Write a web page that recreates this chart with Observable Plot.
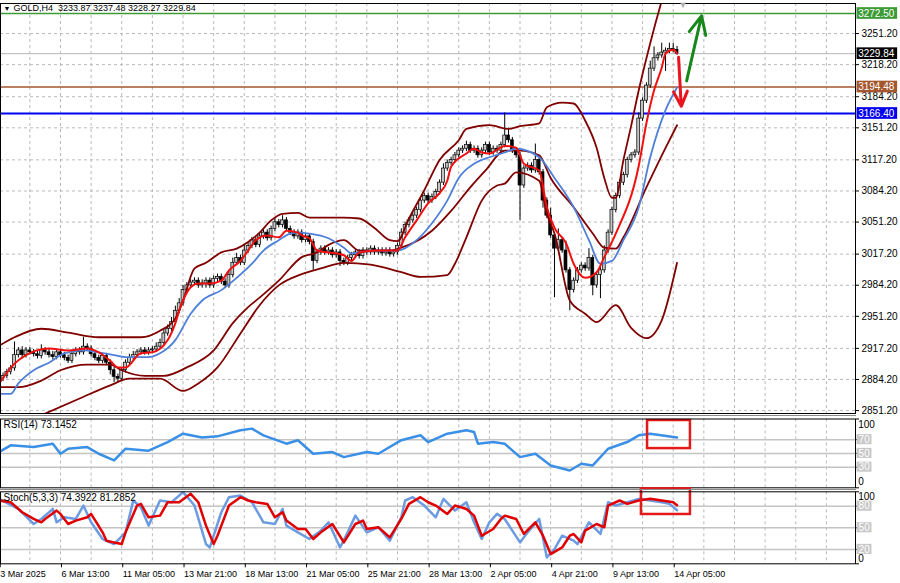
<!DOCTYPE html>
<html><head><meta charset="utf-8">
<script src="https://cdn.jsdelivr.net/npm/d3@7"></script>
<script src="https://cdn.jsdelivr.net/npm/@observablehq/plot@0.6"></script>
<style>
body{margin:0;background:#fff;}
#wrap{position:relative;width:900px;height:583px;overflow:hidden;background:#fff;font-family:"Liberation Sans",Arial,sans-serif;}
#wrap > div{position:absolute;left:0;}
.sep{width:856px;height:1px;background:#8a8a8a;}
</style></head><body>
<div id="wrap">
  <div id="main" style="top:0"></div>
  <div id="rsi" style="top:415px"></div>
  <div id="stoch" style="top:489px"></div>
  <div class="sep" style="top:415px"></div>
  <div class="sep" style="top:489px"></div>
</div>
<script>
// ---------- DATA ----------
const header = "GOLD,H4  3233.87 3237.48 3228.27 3229.84";
const timeLabels = ["3 Mar 2025","6 Mar 13:00","11 Mar 05:00","13 Mar 21:00","18 Mar 13:00","21 Mar 05:00","25 Mar 21:00","28 Mar 13:00","2 Apr 05:00","4 Apr 21:00","9 Apr 13:00","14 Apr 05:00"];
const timeLabelBars = [0,16,32,48,64,80,96,112,128,144,160,176];
const priceTicks = [3251.2,3218.2,3184.2,3151.2,3117.2,3084.2,3051.2,3017.2,2984.2,2951.2,2917.2,2884.2,2851.2];
const levelValues = [3272.50, 3229.84, 3194.48, 3166.40];

const firstOpen = 2882;
const closes = [
2885,2888,2892,2896,2910,2915,2910,2915,2913,2911,
2909,2915,2913,2910,2908,2913,2910,2907,2904,2911,
2915,2913,2919,2917,2911,2907,2904,2909,2902,2894,
2887,2885,2894,2902,2907,2910,2913,2915,2913,2915,
2916,2919,2923,2933,2938,2945,2957,2965,2979,2984,
2987,2989,2984,2986,2989,2984,2991,2993,2988,2984,
2995,3008,3013,3008,3021,3026,3032,3027,3036,3040,
3034,3044,3051,3048,3053,3044,3040,3036,3040,3032,
3036,3030,3010,3019,3023,3019,3021,3016,3019,3010,
3008,3013,3016,3019,3015,3021,3019,3023,3019,3021,
3018,3021,3017,3019,3026,3040,3048,3053,3058,3064,
3074,3079,3074,3078,3083,3093,3108,3114,3117,3122,
3127,3129,3133,3127,3129,3122,3127,3133,3125,3129,
3127,3133,3143,3138,3127,3122,3090,3108,3111,3106,
3117,3104,3074,3058,3037,3023,3032,3021,3000,2979,
2989,3000,3005,3002,3013,2984,2995,3000,3021,3040,
3064,3079,3093,3101,3117,3122,3125,3161,3180,3196,
3214,3225,3228,3231,3233,3235,3233.87,3229.84];
const wickUp = [
3,3,3,3,14,3,4,3,3,3, 3,6,3,3,4,3,3,3,3,3, 3,3,10,3,3,3,3,3,3,3, 3,3,3,3,4,4,3,3,3,3,
3,4,4,4,4,5,5,5,5,3, 3,3,3,4,3,3,3,3,3,3, 5,5,5,3,6,3,3,3,4,3, 3,3,4,3,5,3,3,3,3,3,
3,3,3,3,3,3,3,3,3,3, 3,3,3,3,3,3,3,3,3,3, 3,3,3,3,3,4,3,3,3,3, 3,3,3,3,3,3,5,3,3,3,
3,3,4,3,3,3,3,3,3,3, 3,3,24,8,3,3,3,3,3,3, 17,3,3,3,8,3,12,3,10,3, 3,3,3,3,10,3,3,3,5,3,
3,3,3,3,3,3,3,6,3,3, 8,12,3,10,3,6,6,3.61];
const wickDn = [
4,3,3,3,3,3,3,3,3,3, 3,3,3,3,3,3,3,3,3,3, 3,3,3,3,3,3,3,3,3,5, 6,5,3,3,3,3,3,3,3,3,
3,3,3,3,3,3,3,3,3,3, 3,3,3,3,5,3,3,3,3,3, 3,3,3,3,3,3,3,3,3,3, 3,3,3,3,3,3,3,3,3,3,
3,3,10,3,3,3,3,3,3,6, 3,3,3,3,3,3,3,3,3,3, 3,3,3,3,3,3,3,3,3,3, 3,3,3,3,3,3,3,3,3,3,
3,3,3,3,3,3,3,3,3,3, 3,3,3,3,3,3,37,3,3,3, 3,3,8,3,3,52,3,3,3,22, 3,3,3,3,3,11,3,25,3,3,
3,3,3,3,3,3,3,3,3,3, 3,3,3,3,20,3,3,1.57];

// indicator lines: [bar index, value]
const redMA = [[0,2880],[4,2901],[7,2910],[13,2917],[18,2915],[23,2917],[26,2913],[29,2904],[31,2897],[33,2897],[37,2912],[40,2913],[44,2926],[46,2944],[47,2957],[50,2982],[52,2986],[55,2986],[58,2989],[60,3000],[63,3010],[65,3021],[67,3032],[70,3037],[73,3035],[75,3042],[78,3040],[79,3037],[81,3034],[83,3021],[86,3019],[90,3016],[92,3010],[94,3019],[99,3021],[104,3021],[106,3035],[109,3053],[112,3071],[115,3082],[117,3095],[118,3110],[122,3124],[124,3129],[126,3125],[128,3124],[132,3132],[135,3130],[137,3113],[141,3106],[143,3067],[145,3045],[148,3029],[150,3007],[153,2992],[156,2998],[158,3014],[161,3039],[167,3111],[169,3156],[171,3191],[173,3215],[174,3230],[176,3234],[177,3230]];
const blueMA = [[0,2869],[3,2869],[5,2880],[9,2894],[13,2902],[17,2912],[22,2915],[26,2913],[30,2910],[33,2908],[39,2908],[42,2912],[46,2926],[50,2954],[53,2968],[58,2979],[62,2992],[66,3007],[69,3021],[73,3032],[76,3039],[78,3040],[81,3039],[86,3034],[90,3024],[92,3018],[98,3021],[104,3021],[109,3032],[113,3050],[117,3074],[120,3098],[124,3113],[128,3120],[132,3125],[135,3129],[141,3120],[145,3098],[150,3067],[154,3032],[157,3007],[160,3010],[163,3032],[167,3067],[170,3120],[174,3170],[177,3194]];
const bandUpper = [[0,2920],[4,2929],[11,2938],[18,2934],[26,2929],[31,2929],[37,2929],[42,2936],[46,2949],[48,2968],[51,3002],[54,3008],[58,3019],[62,3023],[65,3030],[68,3040],[71,3053],[74,3060],[78,3061],[81,3056],[86,3056],[90,3056],[94,3055],[98,3045],[102,3032],[104,3031],[107,3055],[111,3085],[115,3117],[120,3138],[122,3150],[128,3154],[133,3150],[136,3153],[141,3156],[143,3173],[147,3178],[150,3177],[153,3159],[156,3130],[158,3098],[160,3077],[161,3077],[163,3117],[165,3153],[167,3191],[170,3241],[173,3286],[177,3339]];
const bandMiddle = [[0,2876],[5,2876],[11,2883],[16,2894],[23,2900],[29,2900],[32,2894],[38,2888],[43,2888],[49,2897],[56,2915],[61,2944],[65,2961],[68,2971],[73,2989],[79,3014],[83,3019],[86,3027],[90,3032],[94,3021],[102,3021],[105,3024],[113,3042],[118,3063],[123,3088],[127,3106],[132,3127],[136,3127],[141,3122],[144,3098],[150,3067],[155,3039],[158,3024],[161,3023],[163,3035],[169,3088],[174,3130],[177,3154]];
const bandLower = [[12,2848],[21,2864],[29,2878],[34,2885],[42,2885],[48,2872],[52,2880],[57,2897],[63,2933],[68,2963],[73,2984],[79,2996],[84,3002],[90,3008],[97,3006],[105,2998],[110,2993],[117,2995],[119,3007],[122,3035],[126,3074],[130,3090],[132,3092],[135,3104],[141,3095],[143,3060],[145,3039],[149,2968],[153,2954],[156,2945],[161,2963],[165,2939],[169,2928],[173,2947],[177,3008]];

const rsi = [[0,52],[3,61.7],[9,59.2],[14,64.1],[16,49.5],[18,56.8],[23,59.2],[26,49.5],[30,39.8],[33,56.8],[39,54],[44,66.5],[48,78.7],[53,73],[57,74.8],[63,83.6],[66,86],[69,76.3],[75,64.1],[78,69.2],[82,49.5],[87,52],[90,44.6],[96,52],[99,49.5],[105,69.2],[110,76.3],[112,66.5],[117,78.7],[122,83.6],[124,81],[125,64.1],[129,66.5],[132,64.1],[136,44.6],[140,49.5],[144,32.5],[149,25.2],[152,34.9],[155,32.5],[159,56.8],[164,66.5],[167,76.3],[170,78.7],[177,73.1452]];
const rsiLevels = [70,50,30];
const stochMain = [[0,90.2],[5,76.2],[9,55.3],[11,62.3],[14,76.2],[15,57.6],[17,64.6],[20,62.3],[22,80.9],[24,57.6],[27,34.4],[30,27.4],[33,43.7],[35,87.9],[37,78.6],[39,53],[42,87.9],[45,85.5],[48,99.5],[51,80.9],[54,27.4],[55,22.7],[58,71.6],[60,92.5],[63,94.8],[66,85.5],[69,57.6],[72,55.3],[74,76.2],[75,53],[78,43.7],[81,34.4],[84,46],[86,57.6],[89,22.7],[91,43.7],[93,66.9],[96,43.7],[99,50.7],[102,32.1],[105,64.6],[106,87.9],[108,92.5],[111,80.9],[114,64.6],[116,90.2],[119,73.9],[122,85.5],[124,57.6],[126,34.4],[128,57.6],[130,69.3],[132,62.3],[136,29.7],[138,43.7],[141,62.3],[143,8.8],[145,20.4],[147,39],[150,32.1],[151,27.4],[154,57.6],[157,41.4],[159,85.5],[161,80.9],[164,85.5],[167,90.2],[170,87.9],[173,85.5],[175,83.2],[177,74.3922]];
const stochSignal = [[0,87.9],[3,85.5],[6,71.6],[9,62.3],[11,57.6],[12,62.3],[15,73.9],[16,69.3],[18,55.3],[20,60],[23,64.6],[24,69.3],[27,43.7],[28,32.1],[30,29.7],[32,27.4],[33,43.7],[36,80.9],[37,83.2],[39,64.6],[42,66.9],[44,85.5],[47,85.5],[50,97.2],[52,85.5],[54,53],[56,27.4],[57,39],[60,80.9],[63,92.5],[65,87.9],[67,85.5],[70,83.2],[72,64.6],[74,71.6],[75,60],[78,48.3],[80,48.3],[82,34.4],[84,43.7],[87,55.3],[90,29.7],[93,55.3],[95,60],[96,48.3],[99,50.7],[102,36.7],[105,62.3],[107,83.2],[110,92.5],[112,85.5],[114,80.9],[117,69.3],[119,80.9],[122,76.2],[124,66.9],[126,39],[129,48.3],[131,62.3],[132,66.9],[135,62.3],[137,41.4],[140,57.6],[142,39],[144,13.5],[147,22.7],[149,39],[150,41.4],[152,29.7],[153,46],[156,55.3],[158,50.7],[159,80.9],[162,87.9],[164,83.2],[167,87.9],[170,90.2],[173,87.9],[176,85.5],[177,81.2852]];
const stochLevels = [80,50,20];

// annotations (bar index, value)
const arrowsMain = [
  {x1:179.5, y1:3201, x2:183.4, y2:3270, c:"#17871a"},
  {x1:177.4, y1:3226, x2:178.1, y2:3174, c:"#e8141e"}
];
const rsiBox = {x1:169.3, x2:180.5, y1:57, y2:97.8};
const stochBox = {x1:167.7, x2:180.5, y1:68.5, y2:104};

// ---------- DRAW ----------
const xDom = [0.34, 223.6];
const W = 900;
const base = {width: W, marginLeft: 0, marginRight: 45,
  style: {background: "transparent", fontFamily: '"Liberation Sans", Arial, sans-serif', fontSize: "10px", color: "#000", overflow: "visible"}};
const gridBars = d3.range(0, 224, 8);
const L = (data, stroke, w, curve = "monotone-x") =>
  Plot.line(data, {x: d => d[0], y: d => d[1], stroke, strokeWidth: w, curve, clip: true});

const bars = closes.map((c, i) => {
  const o = i ? closes[i - 1] : firstOpen;
  return {i, o, c, h: Math.max(o, c) + wickUp[i], l: Math.min(o, c) - wickDn[i]};
});
const levelColors = ["#3c9a37", "#000000", "#a4562e", "#0000f0"];
const levelLine = ["#3c9a37", "#b4b4b4", "#a4562e", "#0000f0"];
const levelW = [1.5, 1, 1.5, 2];

const mainPlot = Plot.plot({
  ...base, height: 415, marginTop: 3, marginBottom: 2,
  x: {domain: xDom, axis: null},
  y: {domain: [2848.1, 3283.1], axis: null},
  marks: [
    Plot.gridX(gridBars, {stroke: "#b9b9b9", strokeOpacity: 1, strokeDasharray: "3,3"}),
    Plot.gridY(priceTicks, {stroke: "#b9b9b9", strokeOpacity: 1, strokeDasharray: "3,3"}),
    ...levelValues.map((v, k) => Plot.ruleY([v], {stroke: levelLine[k], strokeWidth: levelW[k]})),
    Plot.ruleX(bars, {x: "i", y1: "l", y2: "h", stroke: "#000", strokeWidth: 1, clip: true}),
    Plot.rect(bars, {x1: d => d.i - 0.38, x2: d => d.i + 0.38, y1: "o", y2: "c",
      fill: d => d.c >= d.o ? "#c4c4c4" : "#000", stroke: "#000", strokeWidth: 0.7, clip: true}),
    L(bandUpper, "#800000", 1.8),
    L(bandMiddle, "#800000", 1.8),
    L(bandLower, "#800000", 1.8),
    L(blueMA, "#4f80d9", 1.8),
    L(redMA, "#f01010", 2),
    Plot.arrow(arrowsMain, {x1: "x1", y1: "y1", x2: "x2", y2: "y2", stroke: d => d.c, strokeWidth: 3, headLength: 10, headAngle: 50}),
    Plot.frame({stroke: "#000"}),
    Plot.axisY(priceTicks, {anchor: "right", tickSize: 3, tickPadding: 3, tickFormat: d => d.toFixed(2), fontSize: 10}),
    Plot.rect(levelValues, {x1: 224.0, x2: 234.6, y1: d => d - 6.2, y2: d => d + 6.2, fill: (d, k) => levelColors[k]}),
    Plot.text(levelValues, {x: 224.3, y: d => d, text: d => d.toFixed(2), textAnchor: "start", fill: "#fff", fontSize: 10}),
    Plot.text(["\u25BC"], {frameAnchor: "top-left", dx: 3, dy: 3, lineAnchor: "top", textAnchor: "start", fontSize: 7}),
    Plot.text([header], {frameAnchor: "top-left", dx: 13, dy: 1.5, lineAnchor: "top", textAnchor: "start", fontSize: 9}),
    Plot.text(["\u25BC"], {frameAnchor: "top-left", dx: 678, dy: -2, lineAnchor: "top", textAnchor: "start", fontSize: 9, fill: "#b0b0b0"})
  ]
});
document.getElementById("main").appendChild(mainPlot);

const sideBoxes = (levels, half) => [
  Plot.rect(levels, {x1: 224.0, x2: 227.9, y1: d => d - half, y2: d => d + half, fill: "#c8c8c8"}),
  Plot.text(levels, {x: 224.4, y: d => d, text: d => String(d), textAnchor: "start", fill: "#fff", fontSize: 10})
];

const rsiPlot = Plot.plot({
  ...base, height: 74, marginTop: 3.5, marginBottom: 1.7,
  x: {domain: xDom, axis: null},
  y: {domain: [0, 100], axis: null},
  marks: [
    Plot.gridX(gridBars, {stroke: "#b9b9b9", strokeOpacity: 1, strokeDasharray: "3,3"}),
    Plot.ruleY(rsiLevels, {stroke: "#c4c4c4", strokeWidth: 1.5}),
    L(rsi, "#3a8fe6", 2.5, "linear"),
    Plot.rect([rsiBox], {x1: "x1", x2: "x2", y1: "y1", y2: "y2", fill: "none", stroke: "#e41a1a", strokeWidth: 2.5}),
    Plot.frame({stroke: "#000"}),
    Plot.axisY([0, 30, 50, 70, 100], {anchor: "right", tickSize: 3, tickFormat: () => ""}),
    Plot.text([100], {x: 224.3, y: d => d, dy: 6, text: d => String(d), textAnchor: "start", fontSize: 10}),
    Plot.text([0], {x: 224.3, y: d => d, dy: -6, text: d => String(d), textAnchor: "start", fontSize: 10}),
    ...sideBoxes(rsiLevels, 7.3),
    Plot.text(["RSI(14) 73.1452"], {frameAnchor: "top-left", dx: 3, dy: 2, lineAnchor: "top", textAnchor: "start", fontSize: 10})
  ]
});
document.getElementById("rsi").appendChild(rsiPlot);

const stochPlot = Plot.plot({
  ...base, height: 94, marginTop: 2.3, marginBottom: 19.7,
  x: {domain: xDom, axis: null},
  y: {domain: [0, 100], axis: null},
  marks: [
    Plot.gridX(gridBars, {stroke: "#b9b9b9", strokeOpacity: 1, strokeDasharray: "3,3"}),
    Plot.ruleY(stochLevels, {stroke: "#c4c4c4", strokeWidth: 1.5}),
    L(stochMain, "#6c9be2", 2.5, "linear"),
    L(stochSignal, "#e00000", 2.5, "linear"),
    Plot.rect([stochBox], {x1: "x1", x2: "x2", y1: "y1", y2: "y2", fill: "none", stroke: "#e41a1a", strokeWidth: 2.5}),
    Plot.frame({stroke: "#000"}),
    Plot.axisY([0, 20, 50, 80, 100], {anchor: "right", tickSize: 3, tickFormat: () => ""}),
    Plot.text([100], {x: 224.3, y: d => d, dy: 5, text: d => String(d), textAnchor: "start", fontSize: 10}),
    Plot.text([0], {x: 224.3, y: d => d, dy: -5, text: d => String(d), textAnchor: "start", fontSize: 10}),
    ...sideBoxes(stochLevels, 7),
    Plot.text(["Stoch(5,3,3) 74.3922 81.2852"], {frameAnchor: "top-left", dx: 3, dy: 2, lineAnchor: "top", textAnchor: "start", fontSize: 10}),
    Plot.axisX(timeLabelBars, {anchor: "bottom", tickSize: 4, tickPadding: 3, textAnchor: "start", dx: 1, fontSize: 9,
      tickFormat: d => timeLabels[timeLabelBars.indexOf(d)]})
  ]
});
document.getElementById("stoch").appendChild(stochPlot);
</script>
</body></html>
